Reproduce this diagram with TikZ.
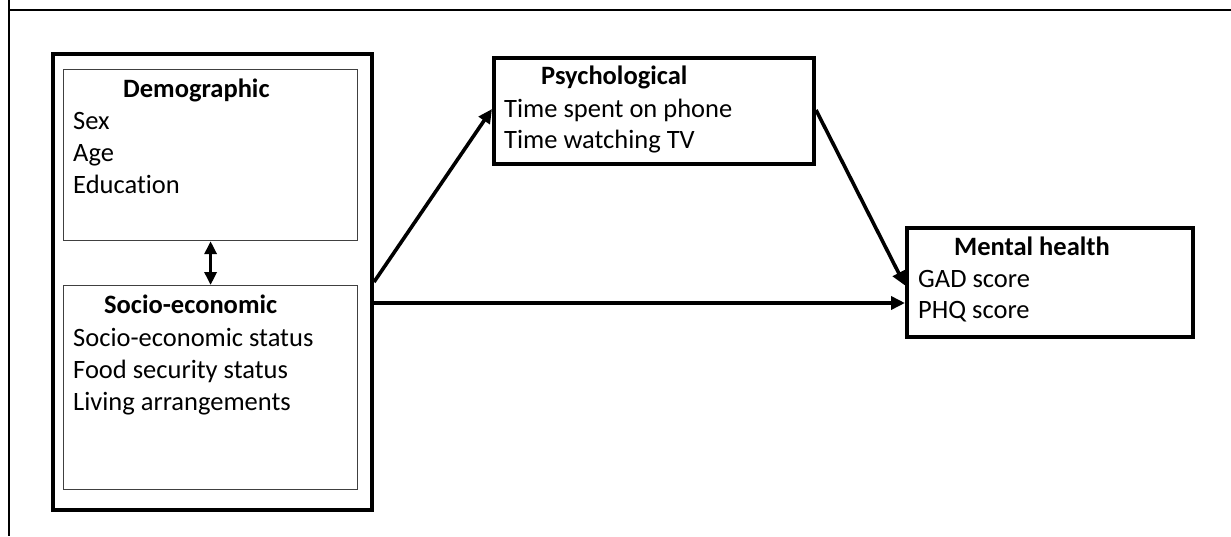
\documentclass[tikz,border=0pt]{standalone}
\usepackage{fontspec}
\setmainfont{Carlito}[Ligatures=NoCommon]
\usetikzlibrary{arrows.meta}
\tikzset{
  thickbox/.style={draw=black, line width=4pt, inner sep=0pt, anchor=north west},
  thinbox/.style={draw=black!75, line width=1.2pt, inner sep=0pt, anchor=north west},
  txt/.style={anchor=base west, inner sep=0pt, font=\fontsize{26.5}{32}\selectfont},
  ttl/.style={txt, font=\fontsize{26.5}{32}\selectfont\bfseries},
  arr/.style={line width=3.6pt, -{Triangle[length=14pt,width=13pt]}},
  dbl/.style={line width=3.4pt, {Triangle[length=13pt,width=12pt]}-{Triangle[length=13pt,width=12pt]}},
  frame/.style={line width=2pt}
}
\begin{document}
\begin{tikzpicture}[x=1pt,y=-1pt]
\useasboundingbox (0,0) rectangle (1231,536);
% frame
\draw[frame] (8.5,0) -- (8.5,536);
\draw[frame] (8.5,10) -- (1231,10);
% boxes
\node[thickbox, minimum width=319pt, minimum height=456pt] (group) at (51,52) {};
\node[thinbox, minimum width=294pt, minimum height=171pt] (demo) at (63,69) {};
\node[thinbox, minimum width=294pt, minimum height=204pt] (socio) at (63,285) {};
\node[thickbox, minimum width=320pt, minimum height=106pt] (psych) at (492,56) {};
\node[thickbox, minimum width=286pt, minimum height=109pt] (mental) at (905,226) {};
% texts
\node[ttl] (demoT) at (123,97) {Demographic};
\node[txt] (d1) at (73,129) {Sex};
\node[txt] (d2) at (73,161) {Age};
\node[txt] (d3) at (73,193) {Education};
\node[ttl] (socioT) at (104,313) {Socio-economic};
\node[txt] (s1) at (73,346) {Socio-economic status};
\node[txt] (s2) at (73,378) {Food security status};
\node[txt] (s3) at (73,410) {Living arrangements};
\node[ttl] (psychT) at (541,84) {Psychological};
\node[txt] (p1) at (504,117) {Time spent on phone};
\node[txt] (p2) at (504,148) {Time watching TV};
\node[ttl] (mentalT) at (954,255) {Mental health};
\node[txt] (m1) at (918,287) {GAD score};
\node[txt] (m2) at (918,318) {PHQ score};
% connectors
\coordinate (hline) at (0,303);
\draw[dbl] (demo.south) -- (socio.north);
\draw[arr] (group.east) -- ([yshift=2pt]psych.west);
\draw[arr] ([yshift=1pt]psych.east) -- ([yshift=-3pt]mental.west);
\draw[arr] (group.east |- hline) -- (mental.west |- hline);
\end{tikzpicture}
\end{document}
